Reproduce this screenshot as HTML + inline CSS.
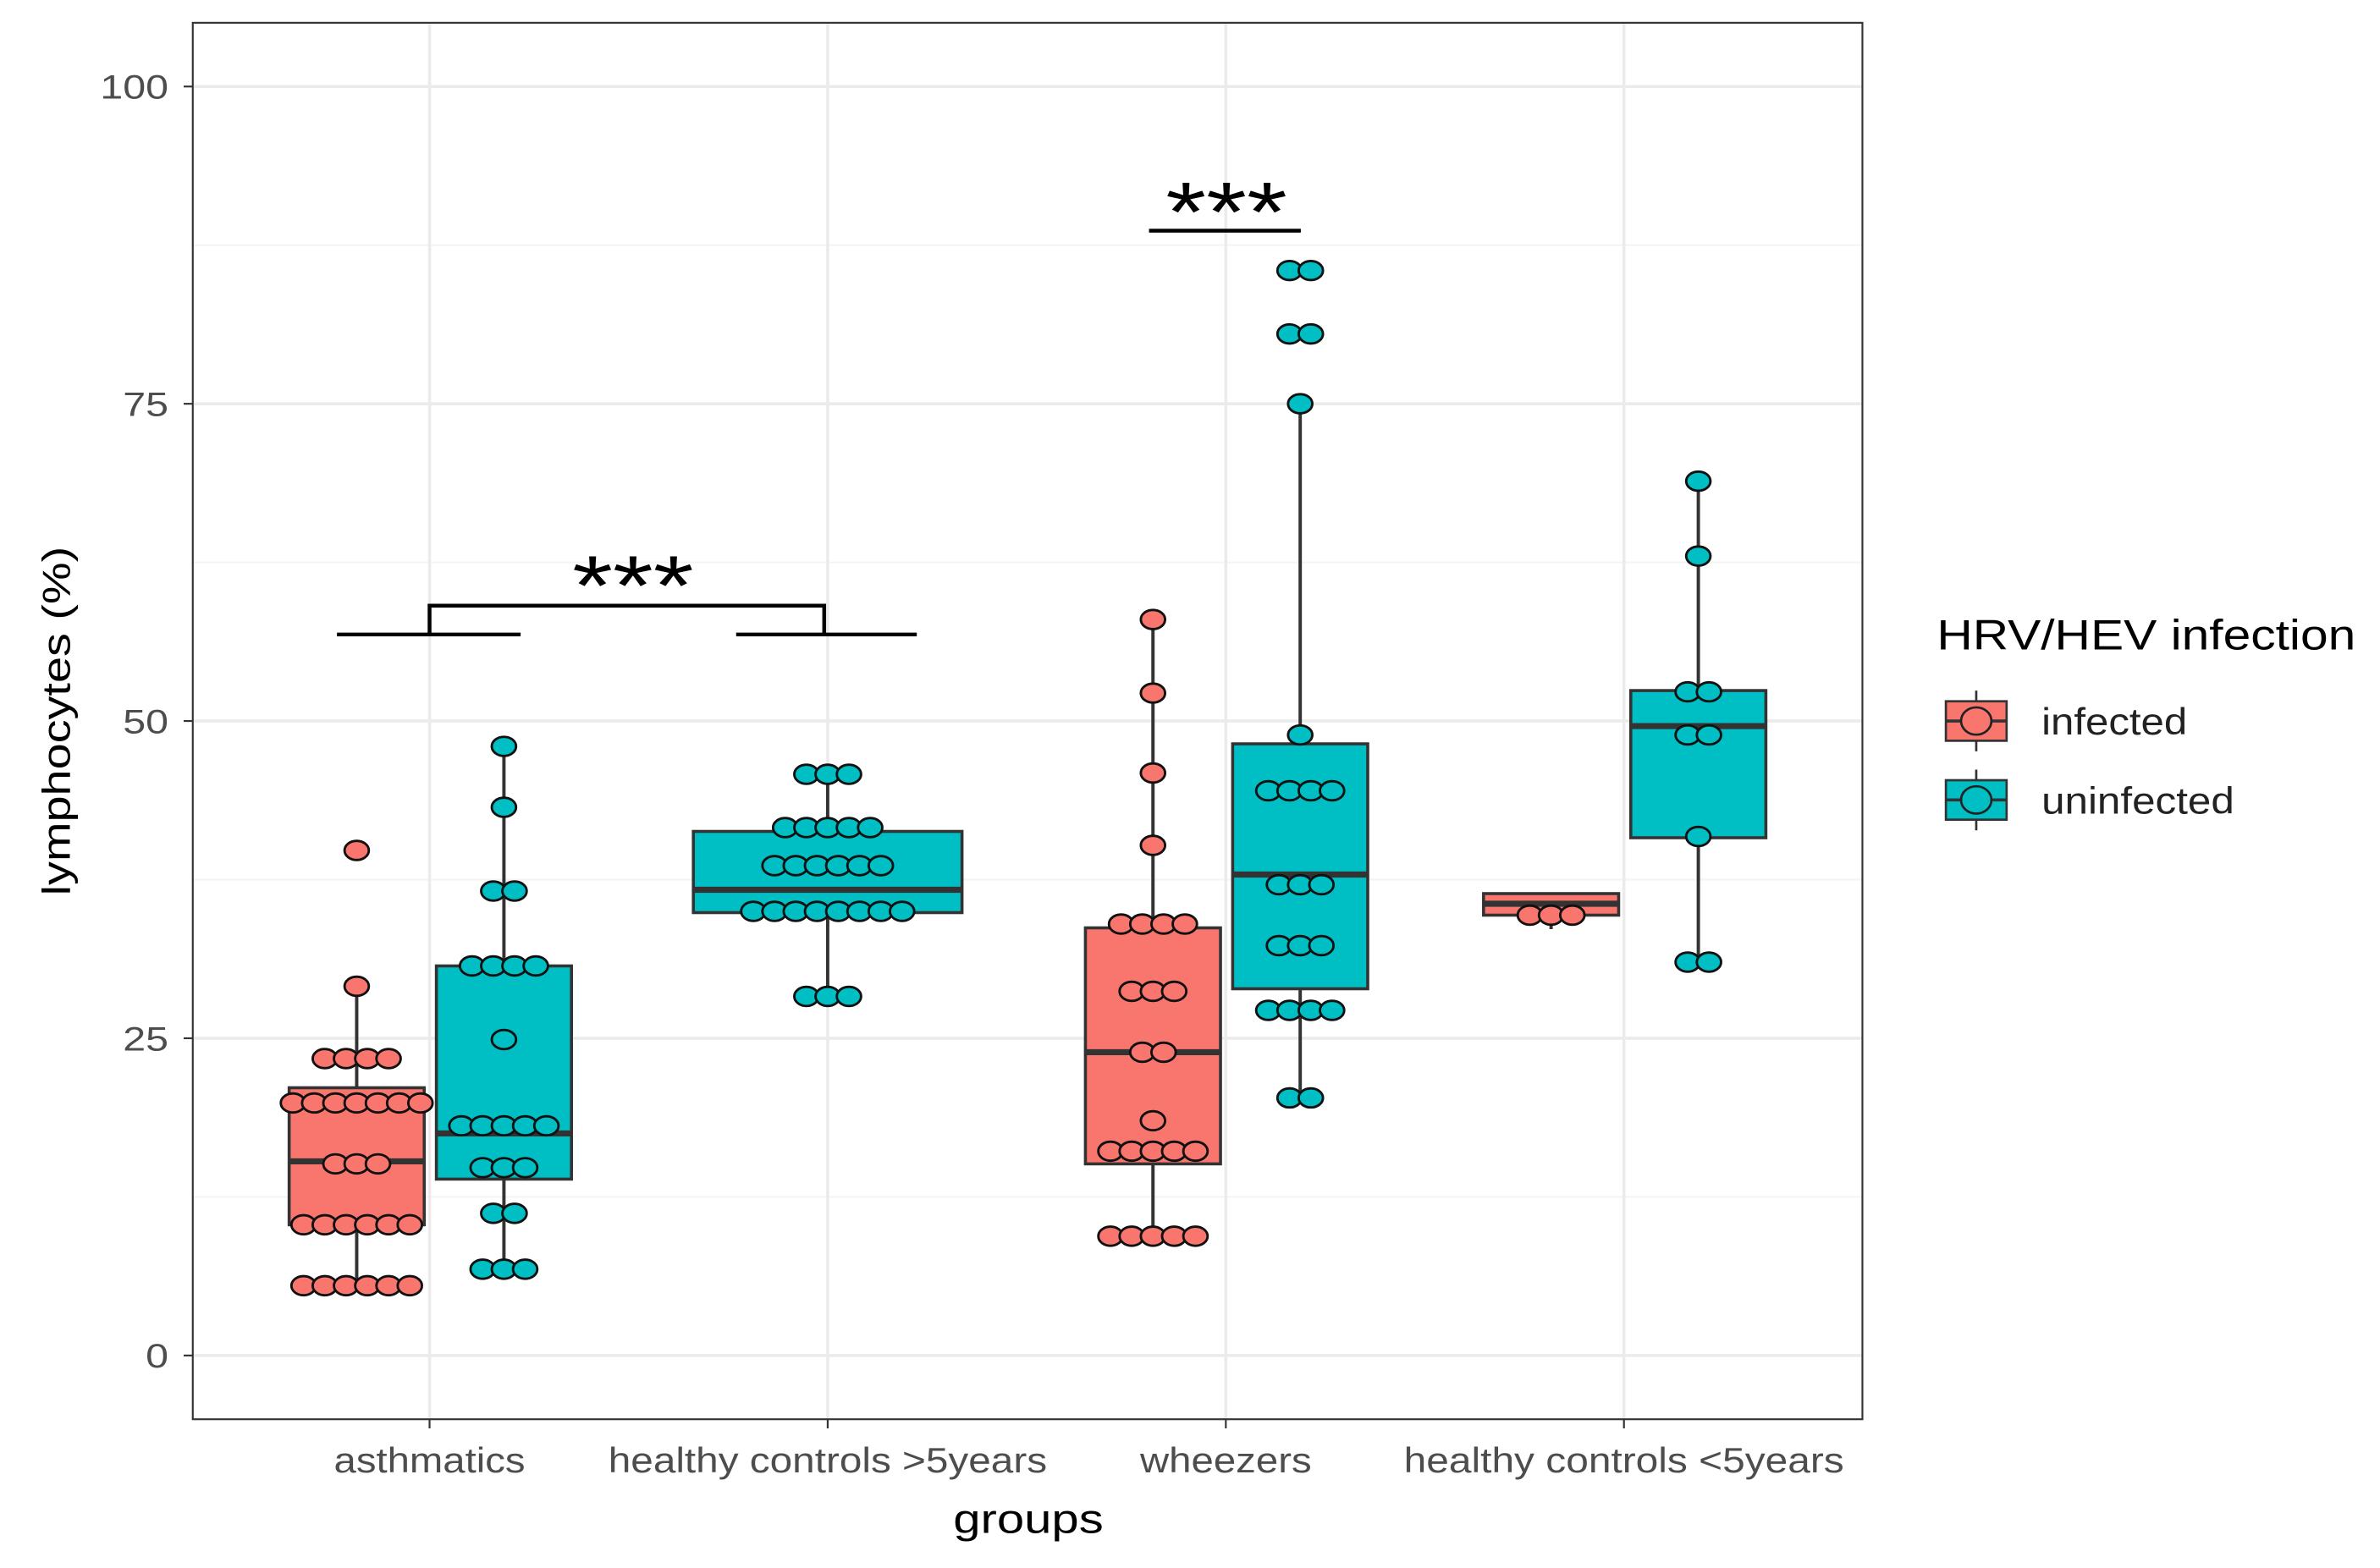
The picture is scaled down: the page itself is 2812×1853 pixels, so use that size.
<!DOCTYPE html>
<html><head><meta charset="utf-8"><style>
html,body{margin:0;padding:0;background:#fff}
svg{display:block}
text{font-family:"Liberation Sans",Arial,sans-serif}
</style></head><body>
<svg id="chart" width="2812" height="1853" viewBox="0 0 1568 1033" preserveAspectRatio="none" xmlns="http://www.w3.org/2000/svg">
<g id="grid"></g>
<g id="marks"></g>
<rect x="127" y="15" width="1100" height="920" fill="none" stroke="#333" stroke-width="1.2"/>
<g id="axes"></g>
<g stroke="#000" stroke-width="2.5" fill="none">
<path d="M222 418 H343 M485 418 H604 M283 418 V399 H543 V418"/>
<path d="M757 152 H857"/>
</g>
<text x="377" y="405" font-size="56" textLength="80" lengthAdjust="spacingAndGlyphs">***</text>
<text x="768" y="159" font-size="56" textLength="80" lengthAdjust="spacingAndGlyphs">***</text>
<text x="628" y="1010" font-size="27" textLength="99" lengthAdjust="spacingAndGlyphs" fill="#000">groups</text>
<text transform="translate(46,590) rotate(-90)" font-size="26" textLength="230" lengthAdjust="spacingAndGlyphs" fill="#000">lymphocytes (%)</text>
<g>
<text x="1276" y="428" font-size="28" textLength="276" lengthAdjust="spacingAndGlyphs" fill="#000">HRV/HEV infection</text>
<g>
<line x1="1302" y1="455" x2="1302" y2="495" stroke="#333" stroke-width="1.5"/>
<rect x="1282" y="462" width="40" height="26" fill="#F8766D" stroke="#333" stroke-width="1.5"/>
<line x1="1282" y1="475" x2="1322" y2="475" stroke="#333" stroke-width="2"/>
<ellipse cx="1302" cy="475" rx="10" ry="9" fill="#F8766D" stroke="#222" stroke-width="1.5"/>
<text x="1345" y="484" font-size="25" textLength="96" lengthAdjust="spacingAndGlyphs" fill="#222">infected</text></g>
<g>
<line x1="1302" y1="507" x2="1302" y2="547" stroke="#333" stroke-width="1.5"/>
<rect x="1282" y="514" width="40" height="26" fill="#00BFC4" stroke="#333" stroke-width="1.5"/>
<line x1="1282" y1="527" x2="1322" y2="527" stroke="#333" stroke-width="2"/>
<ellipse cx="1302" cy="527" rx="10" ry="9" fill="#00BFC4" stroke="#222" stroke-width="1.5"/>
<text x="1345" y="536" font-size="25" textLength="127" lengthAdjust="spacingAndGlyphs" fill="#222">uninfected</text></g>
</g>
</svg>
<script>
const categories = ["asthmatics","healthy controls >5years","wheezers","healthy controls <5years"];
const yTicks = [0,25,50,75,100];
const boxGroups = ["asthmatics-infected","asthmatics-uninfected","controls5plus-uninfected","wheezers-infected","wheezers-uninfected","controls5minus-infected","controls5minus-uninfected"];
const boxCat = [0,0,1,2,2,3,3];
const boxInfected = [1,0,0,1,0,1,0];
const boxQ1 = [10.3,13.9,34.9,15.1,28.9,34.7,40.8];
const boxMedian = [15.3,17.5,36.7,23.9,37.9,35.6,49.6];
const boxQ3 = [21.1,30.7,41.3,33.7,48.2,36.4,52.4];
const whiskLo = [5.5,6.8,28.3,9.4,20.3,33.6,31];
const whiskHi = [29.1,48,45.8,58,75,36.4,68.9];
const dotValues = [
 [39.8,29.1,23.4,19.9,15.1,10.3,5.5],
 [48,43.2,36.6,30.7,24.9,18.1,14.8,11.2,6.8],
 [45.8,41.6,38.6,35,28.3],
 [58,52.2,45.9,40.2,34,28.7,23.9,18.5,16.1,9.4],
 [85.5,80.5,75,48.9,44.5,37.1,32.3,27.2,20.3],
 [34.7],
 [68.9,63,52.3,48.9,40.9,31]
];
const dotCounts = [
 [1,1,4,7,3,6,6],
 [1,1,2,4,1,5,3,2,3],
 [3,5,6,8,3],
 [1,1,1,1,4,3,2,1,5,5],
 [2,2,1,1,4,3,3,4,2],
 [3],
 [1,1,2,2,1,2]
];
const NS="http://www.w3.org/2000/svg";
const labelWidths=[126,289,113,290];
const y = v => 893 - v*8.36;
const xCat = i => 283 + i*262.3;
function mk(tag, attrs, parent){const e=document.createElementNS(NS,tag);for(const k in attrs)e.setAttribute(k,attrs[k]);parent.appendChild(e);return e;}
const grid=document.getElementById('grid'), marks=document.getElementById('marks'), axes=document.getElementById('axes');
for(let v=-12.5; v<=112.5; v+=12.5){const yy=y(v); if(yy<15||yy>935)continue;
 const major = v%25===0;
 const l=mk('line',{x1:127,x2:1227,y1:yy,y2:yy,stroke:major?'#ebebeb':'#f4f4f4','stroke-width':major?2:1.2},grid);
 
 }
categories.forEach((c,i)=>{
 const l=mk('line',{x1:xCat(i),x2:xCat(i),y1:15,y2:935,stroke:'#ebebeb','stroke-width':2},grid);
 
 
 const t=mk('line',{x1:xCat(i),x2:xCat(i),y1:935,y2:941,stroke:'#333','stroke-width':1.2},axes);
 
 
 const tx=mk('text',{x:xCat(i),y:970,'font-size':23,'text-anchor':'middle',fill:'#4d4d4d',textLength:labelWidths[i]||c.length*12,lengthAdjust:'spacingAndGlyphs'},axes);
 tx.textContent=c;
 
 
});
yTicks.forEach(v=>{
 const t=mk('line',{x1:121,x2:127,y1:y(v),y2:y(v),stroke:'#333','stroke-width':1.2},axes);
 
 
 const s=String(v);
 const tx=mk('text',{x:111,y:y(v)+8,'font-size':22,'text-anchor':'end',fill:'#4d4d4d',textLength:s.length*15,lengthAdjust:'spacingAndGlyphs'},axes);
 tx.textContent=s;
 
 
});
boxGroups.forEach((g,i)=>{
 const single = boxGroups.filter((_,j)=>boxCat[j]===boxCat[i]).length===1;
 const cx = single ? xCat(boxCat[i]) : xCat(boxCat[i]) + (boxInfected[i]? -48 : 49);
 const w = single ? 177 : 89;
 const fill = boxInfected[i] ? '#F8766D' : '#00BFC4';
 const grp=mk('g',{},marks);
 
 
 mk('line',{x1:cx,x2:cx,y1:y(whiskHi[i]),y2:y(whiskLo[i]),stroke:'#333','stroke-width':2.2},grp);
 mk('rect',{x:cx-w/2,y:y(boxQ3[i]),width:w,height:y(boxQ1[i])-y(boxQ3[i]),fill:fill,stroke:'#333','stroke-width':2},grp);
 mk('line',{x1:cx-w/2,x2:cx+w/2,y1:y(boxMedian[i]),y2:y(boxMedian[i]),stroke:'#333','stroke-width':4},grp);
 dotValues[i].forEach((v,k)=>{
  const n=dotCounts[i][k];
  for(let m=0;m<n;m++){
   const e=mk('ellipse',{cx:cx+(m-(n-1)/2)*14,cy:y(v),rx:8,ry:6.3,fill:fill,stroke:'#111','stroke-width':1.6},grp);
   
   
  }
 });
});
</script>
</body></html>
